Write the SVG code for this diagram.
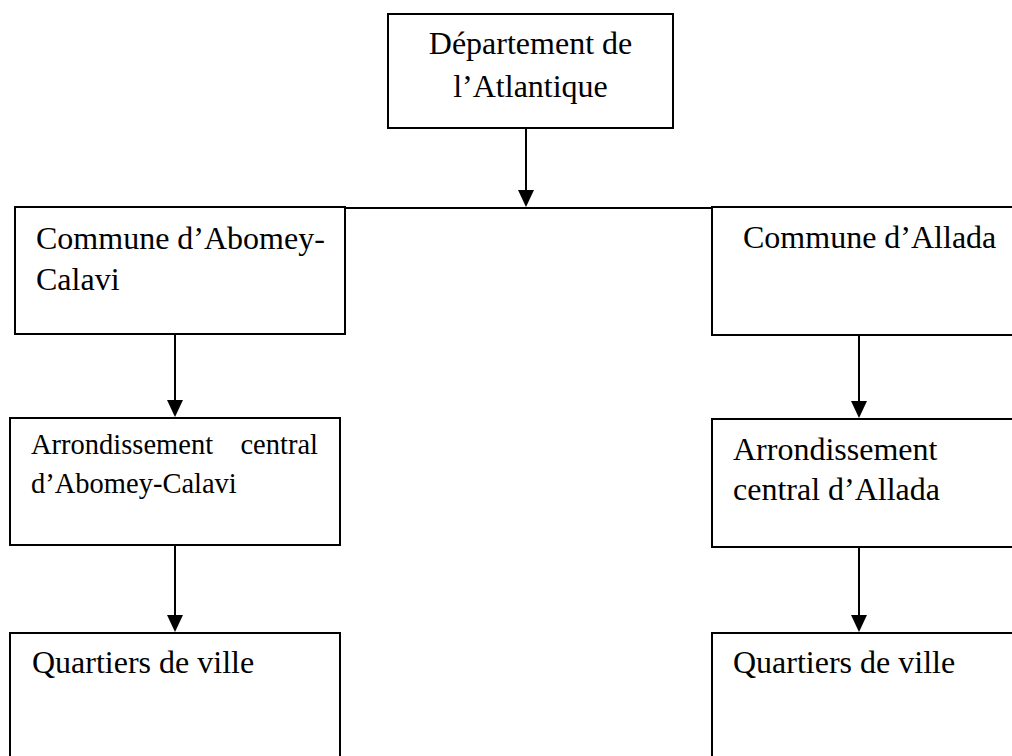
<svg xmlns="http://www.w3.org/2000/svg" width="1012" height="756" viewBox="0 0 1012 756">
<style>
.box{fill:#fff;stroke:#000;stroke-width:2}
.t{font-family:"Liberation Serif","Times New Roman",serif;font-size:32px;fill:#000}
.s{font-size:28.5px}
.c{fill:none;stroke:#000;stroke-width:2}
</style>
<defs>
<marker id="ah" markerWidth="16" markerHeight="18" refX="8" refY="17" orient="auto-start-reverse" markerUnits="userSpaceOnUse" viewBox="0 0 16 18">
<path d="M0,0 L16,0 L8,17 Z" transform="rotate(0)" fill="#000"/>
</marker>
</defs>
<rect width="1012" height="756" fill="#fff"/>
<g id="connectors">
<line class="c" x1="15" y1="208" x2="1012" y2="208"/>
<line class="c" x1="526" y1="128" x2="526" y2="190"/>
<path d="M518,190 L534,190 L526,207 Z" fill="#000"/>
<line class="c" x1="175" y1="334" x2="175" y2="400"/>
<path d="M167,400 L183,400 L175,417 Z" fill="#000"/>
<line class="c" x1="175" y1="545" x2="175" y2="615"/>
<path d="M167,615 L183,615 L175,632 Z" fill="#000"/>
<line class="c" x1="859" y1="335" x2="859" y2="401"/>
<path d="M851,401 L867,401 L859,418 Z" fill="#000"/>
<line class="c" x1="859" y1="547" x2="859" y2="615"/>
<path d="M851,615 L867,615 L859,632 Z" fill="#000"/>
</g>
<g id="dept">
<rect class="box" x="388" y="14" width="285" height="114"/>
<text class="t" x="530.5" y="54" text-anchor="middle">Département de</text>
<text class="t" x="530.5" y="97" text-anchor="middle">l’Atlantique</text>
</g>
<g id="commune-abomey">
<rect class="box" x="15" y="207" width="330" height="127"/>
<text class="t" x="36" y="249">Commune d’Abomey-</text>
<text class="t" x="36" y="290">Calavi</text>
</g>
<g id="commune-allada">
<rect class="box" x="712" y="207" width="310" height="128"/>
<text class="t" x="743" y="248">Commune d’Allada</text>
</g>
<g id="arr-abomey">
<rect class="box" x="10" y="418" width="330" height="127"/>
<text class="t s" y="454"><tspan x="31">Arrondissement</tspan><tspan x="318" text-anchor="end">central</tspan></text>
<text class="t s" x="31" y="493">d’Abomey-Calavi</text>
</g>
<g id="arr-allada">
<rect class="box" x="712" y="419" width="310" height="128"/>
<text class="t" x="733" y="460">Arrondissement</text>
<text class="t" x="733" y="500">central d’Allada</text>
</g>
<g id="quartiers-abomey">
<rect class="box" x="10" y="633" width="330" height="140"/>
<text class="t" x="32" y="673">Quartiers de ville</text>
</g>
<g id="quartiers-allada">
<rect class="box" x="712" y="633" width="310" height="140"/>
<text class="t" x="733" y="673">Quartiers de ville</text>
</g>
</svg>
